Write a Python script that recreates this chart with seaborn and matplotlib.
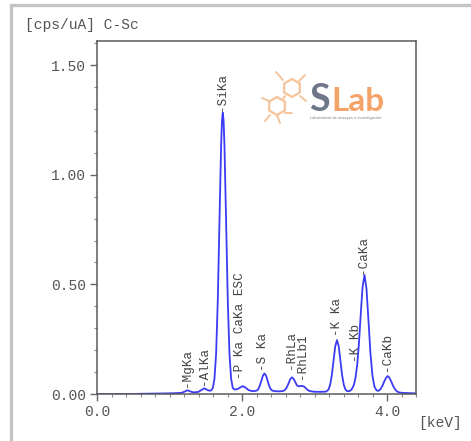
import matplotlib
matplotlib.use("Agg")
import matplotlib.pyplot as plt
from matplotlib.patches import RegularPolygon
from matplotlib.lines import Line2D
import seaborn as sns
import pandas as pd

# ---- data ----
energy_kev = [0.00, 0.50, 0.60, 0.80, 1.00, 1.10, 1.15, 1.18, 1.215, 1.25, 1.285, 1.32,
              1.36, 1.40, 1.44, 1.48, 1.52, 1.55, 1.574,
              1.597, 1.620, 1.643, 1.666, 1.689, 1.712, 1.7235, 1.735, 1.7465, 1.758,
              1.781, 1.804, 1.827, 1.850, 1.873,
              1.90, 1.94, 1.97, 2.01, 2.05, 2.09, 2.13,
              2.17, 2.205, 2.226, 2.247, 2.268, 2.289, 2.31, 2.331, 2.352, 2.373, 2.394, 2.415, 2.45, 2.50,
              2.55, 2.577, 2.60, 2.622, 2.645, 2.667, 2.69, 2.712, 2.735, 2.757, 2.78, 2.80, 2.83, 2.86,
              2.89, 2.92, 2.96, 3.00, 3.05, 3.10,
              3.16, 3.1925, 3.216, 3.2395, 3.263, 3.2865, 3.31, 3.3335, 3.357, 3.3805, 3.404, 3.4275,
              3.45, 3.48, 3.51, 3.54, 3.565, 3.59, 3.6125, 3.635, 3.6625, 3.69, 3.7175, 3.745, 3.7725,
              3.80, 3.8275, 3.855, 3.88, 3.9075, 3.935, 3.9625, 3.99, 4.01, 4.03, 4.0575, 4.085, 4.1125,
              4.14, 4.17, 4.22, 4.30, 4.40]
cps_per_ua = [0.000, 0.000, 0.001, 0.002, 0.003, 0.004, 0.005, 0.007, 0.012, 0.017, 0.012, 0.008,
              0.008, 0.010, 0.018, 0.026, 0.019, 0.015, 0.016,
              0.027, 0.069, 0.184, 0.426, 0.784, 1.133, 1.244, 1.283, 1.244, 1.133,
              0.784, 0.426, 0.184, 0.069, 0.027,
              0.020, 0.023, 0.029, 0.036, 0.029, 0.018, 0.014,
              0.013, 0.016, 0.023, 0.039, 0.062, 0.084, 0.094, 0.084, 0.062, 0.039, 0.023, 0.016, 0.013, 0.012,
              0.013, 0.015, 0.021, 0.033, 0.051, 0.068, 0.076, 0.069, 0.054, 0.040, 0.035, 0.036, 0.037, 0.033,
              0.023, 0.015, 0.012, 0.010, 0.010, 0.010,
              0.011, 0.020, 0.042, 0.087, 0.153, 0.218, 0.246, 0.218, 0.153, 0.087, 0.042, 0.020,
              0.013, 0.013, 0.020, 0.038, 0.072, 0.136, 0.229, 0.349, 0.487, 0.543, 0.478, 0.332, 0.182,
              0.082, 0.033, 0.017, 0.014, 0.021, 0.036, 0.058, 0.075, 0.082, 0.075, 0.058, 0.036, 0.021,
              0.011, 0.007, 0.005, 0.004, 0.003]

peak_labels = ["-MgKa", "-AlKa", "-SiKa", "-P Ka CaKa ESC", "-S Ka", "-RhLa", "-RhLb1",
               "-K Ka", "-K Kb", "-CaKa", "-CaKb"]
label_energy = [1.236, 1.476, 1.72, 1.975, 2.294, 2.672, 2.823, 3.314, 3.572, 3.673, 4.004]
label_height = [0.030, 0.039, 1.290, 0.070, 0.106, 0.116, 0.070, 0.266, 0.144, 0.549, 0.106]

x_ticks = [0.0, 2.0, 4.0]
y_ticks = [0.00, 0.50, 1.00, 1.50]
y_unit_title = "[cps/uA] C-Sc"
x_unit_title = "[keV]"

# ---- figure ----
sns.set_theme(style="white")
plt.rcParams["font.family"] = ["Liberation Mono", "DejaVu Sans Mono"]

W, H = 471, 441
fig = plt.figure(figsize=(W / 100, H / 100), dpi=100)
fig.patch.set_facecolor("white")

ax = fig.add_axes([97 / W, 1 - 394 / H, (416 - 97) / W, (394 - 41) / H])
df = pd.DataFrame({"E": energy_kev, "I": cps_per_ua})
sns.lineplot(data=df, x="E", y="I", ax=ax, color="#3b3bf5", linewidth=1.3, sort=False)

ax.set_xlim(0, 4.4)
ax.set_ylim(0, 1.61)
ax.set_xlabel("")
ax.set_ylabel("")
ax.set_xticks(x_ticks)
ax.set_xticklabels([f"{v:.1f}" for v in x_ticks])
ax.set_yticks(y_ticks)
ax.set_yticklabels([f"{v:.2f}" for v in y_ticks])
ax.set_xticks([i * 0.2 for i in range(23)], minor=True)
ax.set_yticks([i * 0.1 for i in range(17)], minor=True)
ax.tick_params(axis="both", which="major", direction="out", length=5, width=1.0,
               color="#666666", labelcolor="#555555", labelsize=10.5)
ax.tick_params(axis="both", which="minor", direction="out", length=2.2, width=0.8,
               color="#888888")
ax.tick_params(axis="y", which="major", pad=3)
ax.tick_params(axis="x", which="major", pad=3)
ax.tick_params(axis="both", which="both", bottom=True, left=True, top=False, right=False)
for s in ax.spines.values():
    s.set_color("#5a5a5a")
    s.set_linewidth(1.1)
    s.set_visible(True)
ax.grid(False)

for txt, e, h in zip(peak_labels, label_energy, label_height):
    ax.text(e, h, txt, rotation=90, ha="center", va="bottom", fontsize=9.1,
            color="#444444", rotation_mode="default")

fig.text(25 / W, 1 - 25 / H, y_unit_title, ha="left", va="center", fontsize=10.5, color="#555555")
fig.text(418 / W, 1 - 423 / H, x_unit_title, ha="left", va="center", fontsize=10.5, color="#555555")

# ---- overlay for frame and logo (pixel coordinates) ----
ov = fig.add_axes([0, 0, 1, 1], zorder=5)
ov.set_xlim(0, W)
ov.set_ylim(H, 0)
ov.axis("off")
ov.patch.set_alpha(0)
ov.add_line(Line2D([11, 11, W], [H, 4.5, 4.5], color="#c4c4c4", linewidth=2.4,
                   solid_joinstyle="miter"))

hex_col = "#f5c39a"
for cx, cy in [(292, 88), (277, 106)]:
    ov.add_patch(RegularPolygon((cx, cy), numVertices=6, radius=9, orientation=0.0,
                                fill=False, edgecolor=hex_col, linewidth=1.6))
for (x0, y0, x1, y1) in [(283, 80, 276, 72), (299, 81, 305, 75), (300, 96, 306, 101),
                         (285, 96, 283, 99), (269, 101, 262, 98), (270, 115, 265, 121),
                         (285, 113, 292, 113), (277, 115, 280, 123)]:
    ov.add_line(Line2D([x0, x1], [y0, y1], color=hex_col, linewidth=1.4))
ov.text(309, 111, "S", fontsize=27, color="#6e7788", family="Lato", fontweight="bold",
        ha="left", va="baseline")
ov.text(331, 111, "Lab", fontsize=24, color="#f4a368", family="Lato", fontweight="bold",
        ha="left", va="baseline")
ov.text(310, 118, "Laboratorio de ensayos e investigación", fontsize=2.6, color="#7a7a7a",
        family="DejaVu Sans", ha="left", va="center")

fig.savefig("out.png", dpi=100)
